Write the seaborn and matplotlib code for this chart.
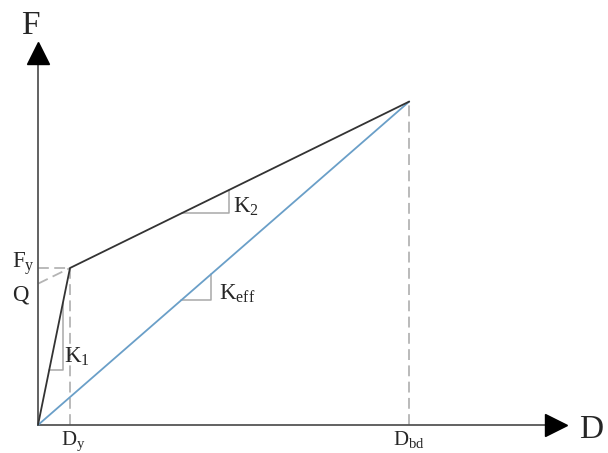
import numpy as np
import pandas as pd
import matplotlib
matplotlib.use("Agg")
import matplotlib.pyplot as plt
import seaborn as sns

# Bilinear force-displacement model (normalised units)
Dy = 1.0          # yield displacement
Dbd = 11.6        # design displacement
Fy = 1.0          # yield force
Q = 0.9           # characteristic strength
K1 = Fy / Dy      # elastic stiffness
K2 = (Fy - Q) / Dy  # post-yield stiffness
Fmax = Q + K2 * Dbd
Keff = Fmax / Dbd

backbone = pd.DataFrame({"D": [0.0, Dy, Dbd], "F": [0.0, Fy, Fmax]})
secant = pd.DataFrame({"D": [0.0, Dbd], "F": [0.0, Fmax]})

sns.set_theme(style="white")
plt.rcParams["font.family"] = ["Liberation Serif", "DejaVu Serif"]
plt.rcParams["mathtext.fontset"] = "custom"
plt.rcParams["mathtext.rm"] = "Liberation Serif"
plt.rcParams["mathtext.it"] = "Liberation Serif"

fig = plt.figure(figsize=(6.08, 4.53), dpi=100)
ax = fig.add_axes([0, 0, 1, 1])
ax.set_xlim(-1.1875, 17.8125)
ax.set_ylim(-0.1783, 2.707)
ax.set_axis_off()

axis_col = "#555555"
dash_col = "#b4b4b4"
tri_col = "#a8a8a8"

# coordinate axes with arrow heads
x_end, y_end = 15.84, 2.293
ax.plot([0, x_end], [0, 0], color=axis_col, lw=1.3, zorder=2)
ax.plot([0, 0], [0, y_end], color=axis_col, lw=1.3, zorder=2)
ax.plot([x_end + 0.36], [0], marker=">", ms=16, color="black", zorder=3)
ax.plot([0], [y_end + 0.074], marker="^", ms=16, color="black", zorder=3)

# reference dashed lines
dash = dict(color=dash_col, lw=1.3, ls=(0, (6, 3)), zorder=1)
ax.plot([0, Dy], [Fy, Fy], **dash)
ax.plot([0, Dy], [Q, Fy], **dash)
ax.plot([Dy, Dy], [0, Fy], **dash)
ax.plot([Dbd, Dbd], [0, Fmax], **dash)

# force-displacement curves
sns.lineplot(data=secant, x="D", y="F", ax=ax, color="#6a9fc8", lw=1.3,
             sort=False, zorder=4)
sns.lineplot(data=backbone, x="D", y="F", ax=ax, color="#333333", lw=1.3,
             sort=False, zorder=5)


def slope_triangle(d0, run, k, f0_of):
    f0 = f0_of(d0)
    ax.plot([d0, d0 + run, d0 + run], [f0, f0, f0 + k * run],
            color=tri_col, lw=1.1, zorder=3)


slope_triangle(0.35, 0.43, K1, lambda d: K1 * d)
slope_triangle(4.5, 1.47, K2, lambda d: Q + K2 * d)
slope_triangle(4.48, 0.93, Keff, lambda d: Keff * d)

big = 24
mid = 16.5
small = 15

ax.text(-0.25, 2.54, "F", fontsize=big, ha="center", va="center")
ax.text(16.9, -0.03, "D", fontsize=big, ha="left", va="center")
ax.text(-0.82, Fy, r"$\mathrm{F_y}$", fontsize=mid, ha="left", va="baseline")
ax.text(-0.82, Q - 0.105, "Q", fontsize=mid, ha="left", va="baseline")
ax.text(0.8, 0.40, r"$\mathrm{K_1}$", fontsize=mid, ha="left", va="baseline")
ax.text(6.1, 1.35, r"$\mathrm{K_2}$", fontsize=mid, ha="left", va="baseline")
ax.text(5.65, 0.80, r"$\mathrm{K_{eff}}$", fontsize=mid, ha="left", va="baseline")
ax.text(Dy + 0.1, -0.128, r"$\mathrm{D_y}$", fontsize=small, ha="center", va="baseline")
ax.text(Dbd, -0.128, r"$\mathrm{D_{bd}}$", fontsize=small, ha="center", va="baseline")

fig.savefig("out.png", dpi=100, facecolor="white")
